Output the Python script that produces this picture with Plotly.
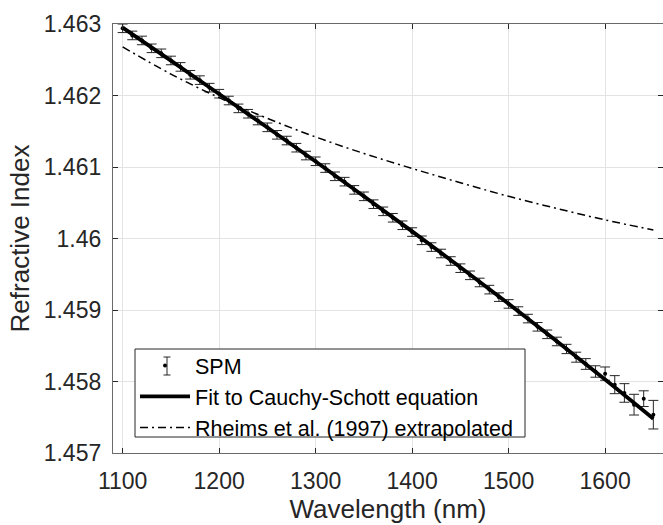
import plotly.graph_objects as go

# SPM measurements (nm, refractive index, error)
spm_wl = list(range(1100, 1651, 10))
spm_n = [
    1.46294, 1.46284, 1.46277, 1.46266, 1.46259, 1.46249, 1.46240, 1.46229, 1.462215, 1.46211,
    1.462025, 1.46193, 1.46182, 1.461745, 1.46165, 1.461555, 1.46145, 1.46137, 1.46127, 1.46116,
    1.46108, 1.460985, 1.46087, 1.460795, 1.46068, 1.46059, 1.46048, 1.46038, 1.46029, 1.460185,
    1.46009, 1.459975, 1.45988, 1.45979, 1.459685, 1.459585, 1.459485, 1.459385, 1.459285, 1.45918,
    1.459085, 1.458985, 1.45888, 1.458765, 1.45866, 1.45856, 1.458455, 1.45834, 1.458245, 1.45814,
    1.45811, 1.457956, 1.45784, 1.457676, 1.45776, 1.457536,
]
spm_err = [0.00006] * 46 + [0.000065, 0.00007, 0.000075, 0.00008, 0.000093, 0.000126, 0.00013, 0.000145, 0.00011, 0.0002]

# Fit to Cauchy-Schott equation
fit_wl = [1100, 1150, 1200, 1250, 1300, 1350, 1400, 1450, 1500, 1550, 1600, 1650]
fit_n = [1.462950, 1.462487, 1.462021, 1.461552, 1.461076, 1.460592, 1.460100,
         1.459599, 1.459086, 1.458562, 1.458028, 1.457480]

# Rheims et al. (1997) extrapolated
rh_wl = [1100, 1150, 1200, 1250, 1300, 1350, 1400, 1450, 1500, 1550, 1600, 1650]
rh_n = [1.46268, 1.46230, 1.46197, 1.46168, 1.46142, 1.46119, 1.46098, 1.46078,
        1.46059, 1.46042, 1.46026, 1.46012]

x_ticks = [1100, 1200, 1300, 1400, 1500, 1600]
y_ticks = [1.457, 1.458, 1.459, 1.46, 1.461, 1.462, 1.463]
y_tick_text = ["1.457", "1.458", "1.459", "1.46", "1.461", "1.462", "1.463"]

FONT = "Liberation Sans, Arial, Helvetica, sans-serif"

# plot area in pixels (used to place the legend box and its I-beam glyph)
L, R, T, B = 113, 663, 24, 453
W_, H_ = R - L, B - T


def px(xp):
    return (xp - L) / W_


def py(yp):
    return (B - yp) / H_


fig = go.Figure()
fig.add_trace(go.Scatter(
    x=spm_wl, y=spm_n, mode="markers", name="SPM",
    marker=dict(color="black", size=4),
    error_y=dict(type="data", array=spm_err, color="#262626", thickness=1, width=5),
))
fig.add_trace(go.Scatter(
    x=fit_wl, y=fit_n, mode="lines", name="Fit to Cauchy-Schott equation",
    line=dict(color="black", width=3.8, shape="spline"),
))
fig.add_trace(go.Scatter(
    x=rh_wl, y=rh_n, mode="lines", name="Rheims et al. (1997) extrapolated",
    line=dict(color="black", width=1.5, dash="8px,4px,2px,4px", shape="spline"),
))

axis_common = dict(
    showline=True, linecolor="#6a6a6a", linewidth=1.3, mirror="ticks",
    ticks="inside", ticklen=5, tickcolor="#262626", tickwidth=1,
    showgrid=True, gridcolor="#e3e3e3", gridwidth=1, zeroline=False,
    tickfont=dict(family=FONT, size=23, color="#262626"),
)

fig.update_layout(
    width=663, height=525,
    margin=dict(l=L, r=663 - R, t=T, b=525 - B),
    paper_bgcolor="white", plot_bgcolor="white",
    font=dict(family=FONT, color="#262626"),
    xaxis=dict(
        range=[1090, 1660], tickvals=x_ticks, ticklabelstandoff=7,
        title=dict(text="Wavelength (nm)", font=dict(family=FONT, size=26, color="#262626"), standoff=7),
        **axis_common,
    ),
    yaxis=dict(
        range=[1.457, 1.463], tickvals=y_ticks, ticktext=y_tick_text, ticklabelstandoff=6,
        title=dict(text="Refractive Index", font=dict(family=FONT, size=26, color="#262626"), standoff=6),
        **axis_common,
    ),
    legend=dict(
        x=px(135), y=py(345), xanchor="left", yanchor="top",
        bgcolor="rgba(0,0,0,0)", borderwidth=0,
        font=dict(family=FONT, size=21.5, color="black"),
        itemwidth=50, tracegroupgap=0,
    ),
    showlegend=True,
)

# legend frame (white, drawn above the data so the legend text sits on it)
fig.add_shape(type="rect", xref="paper", yref="paper", layer="above",
              x0=px(135), x1=px(525), y0=py(437), y1=py(349),
              fillcolor="white", line=dict(color="#262626", width=1))

# I-beam glyph for the SPM legend entry (error bar sample)
ib_x, ib_top, ib_bot, cap = 167, 357, 375, 3.5
for (x0, y0, x1, y1) in [
    (ib_x, ib_top, ib_x, ib_bot),
    (ib_x - cap, ib_top, ib_x + cap, ib_top),
    (ib_x - cap, ib_bot, ib_x + cap, ib_bot),
]:
    fig.add_shape(type="line", xref="paper", yref="paper", layer="above",
                  x0=px(x0), y0=py(y0), x1=px(x1), y1=py(y1),
                  line=dict(color="#262626", width=1))

fig.write_html("out.html")
